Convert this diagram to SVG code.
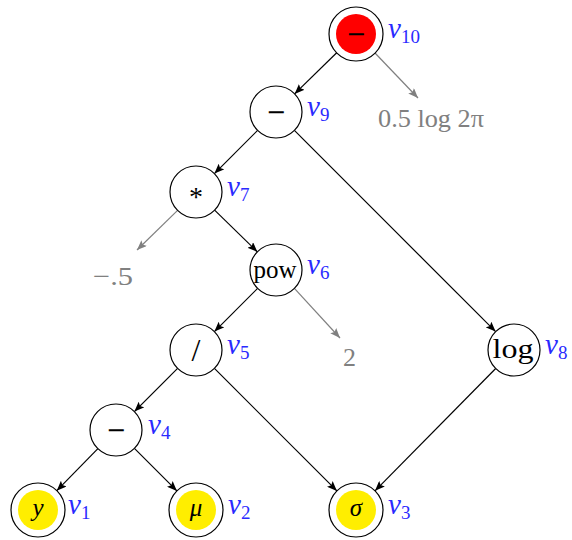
<svg xmlns="http://www.w3.org/2000/svg" width="572" height="540" viewBox="0 0 572 540">
<defs>
<marker id="ab" viewBox="0 0 10 8" refX="10" refY="4" markerWidth="10" markerHeight="8" markerUnits="userSpaceOnUse" orient="auto"><path d="M0,0 L10,4 L0,8 L2,4 Z" fill="#000"/></marker>
<marker id="ag" viewBox="0 0 10 8" refX="10" refY="4" markerWidth="10" markerHeight="8" markerUnits="userSpaceOnUse" orient="auto"><path d="M0,0 L10,4 L0,8 L2,4 Z" fill="#808080"/></marker>
<style>
.n{fill:#fff;stroke:#000;stroke-width:1.2}
.t{font-family:"Liberation Serif","DejaVu Serif",serif;font-size:24px;fill:#000;text-anchor:middle}
.op{font-family:"DejaVu Serif","Liberation Serif",serif;font-size:24px;fill:#000;text-anchor:middle}
.m{font-family:"Liberation Serif","DejaVu Serif",serif;font-style:italic;font-size:25px;fill:#000;text-anchor:middle}
.l{font-family:"Liberation Serif","DejaVu Serif",serif;font-style:italic;font-size:29px;fill:#2a2aff}
.s{font-style:normal;font-size:19px}
.g{font-family:"Liberation Serif","DejaVu Serif",serif;font-size:26px;fill:#808080}
.e{stroke:#000;stroke-width:1.2;fill:none;marker-end:url(#ab)}
.eg{stroke:#808080;stroke-width:1.2;fill:none;marker-end:url(#ag)}
</style>
</defs>
<g id="edges">
<line class="e" x1="336.7" y1="52.8" x2="294.6" y2="93.9"/>
<line class="eg" x1="375" y1="53" x2="418" y2="98"/>
<line class="e" x1="257.6" y1="130.4" x2="214.4" y2="173.6"/>
<line class="e" x1="294.4" y1="130.4" x2="495.6" y2="331.6"/>
<line class="eg" x1="177.6" y1="210.4" x2="137" y2="250"/>
<line class="e" x1="214.6" y1="210.1" x2="257.4" y2="251.9"/>
<line class="e" x1="257.6" y1="288.4" x2="214.4" y2="331.6"/>
<line class="eg" x1="294.4" y1="288.4" x2="340" y2="338"/>
<line class="e" x1="177.6" y1="368.4" x2="134.4" y2="411.6"/>
<line class="e" x1="214.4" y1="368.4" x2="336.9" y2="490.9"/>
<line class="e" x1="97.9" y1="448.6" x2="56.8" y2="490.7"/>
<line class="e" x1="134.4" y1="448.4" x2="176.9" y2="490.9"/>
<line class="e" x1="495.7" y1="368.5" x2="375" y2="490.8"/>
</g>
<g id="v10">
<circle class="n" cx="356" cy="34" r="27"/>
<circle cx="356" cy="34" r="20" fill="#ff0000"/>
<text class="op" x="356" y="42">−</text>
<text class="l" x="388" y="38">v<tspan class="s" dy="5">10</tspan></text>
</g>
<g id="c1"><text class="g" x="378" y="127" textLength="106" lengthAdjust="spacingAndGlyphs">0.5 log 2π</text></g>
<g id="v9">
<circle class="n" cx="276" cy="112" r="26"/>
<text class="op" x="276" y="120">−</text>
<text class="l" x="307" y="116">v<tspan class="s" dy="5">9</tspan></text>
</g>
<g id="v7">
<circle class="n" cx="196" cy="192" r="26"/>
<text class="t" x="196" y="206" style="font-size:28px">*</text>
<text class="l" x="227" y="196">v<tspan class="s" dy="5">7</tspan></text>
</g>
<g id="c2"><text class="g" x="93" y="285" textLength="40" lengthAdjust="spacingAndGlyphs">−.5</text></g>
<g id="v6">
<circle class="n" cx="276" cy="270" r="26"/>
<text class="t" x="275" y="278" style="font-size:25px">pow</text>
<text class="l" x="307" y="274">v<tspan class="s" dy="5">6</tspan></text>
</g>
<g id="c3"><text class="g" x="343" y="366">2</text></g>
<g id="v5">
<circle class="n" cx="196" cy="350" r="26"/>
<text class="t" x="196" y="361" style="font-size:32px">/</text>
<text class="l" x="227" y="354">v<tspan class="s" dy="5">5</tspan></text>
</g>
<g id="v8">
<circle class="n" cx="514" cy="350" r="26"/>
<text class="t" x="513" y="358" style="font-size:28px" textLength="41" lengthAdjust="spacingAndGlyphs">log</text>
<text class="l" x="545" y="354">v<tspan class="s" dy="5">8</tspan></text>
</g>
<g id="v4">
<circle class="n" cx="116" cy="430" r="26"/>
<text class="op" x="116" y="438">−</text>
<text class="l" x="148" y="434">v<tspan class="s" dy="5">4</tspan></text>
</g>
<g id="v1">
<circle class="n" cx="38" cy="510" r="27"/>
<circle cx="38" cy="510" r="20" fill="#ffee00"/>
<text class="m" x="38" y="516">y</text>
<text class="l" x="68" y="514">v<tspan class="s" dy="5">1</tspan></text>
</g>
<g id="v2">
<circle class="n" cx="196" cy="510" r="27"/>
<circle cx="196" cy="510" r="20" fill="#ffee00"/>
<text class="m" x="196" y="516">μ</text>
<text class="l" x="228" y="514">v<tspan class="s" dy="5">2</tspan></text>
</g>
<g id="v3">
<circle class="n" cx="356" cy="510" r="27"/>
<circle cx="356" cy="510" r="20" fill="#ffee00"/>
<text class="m" x="356" y="516">σ</text>
<text class="l" x="388" y="514">v<tspan class="s" dy="5">3</tspan></text>
</g>
</svg>
